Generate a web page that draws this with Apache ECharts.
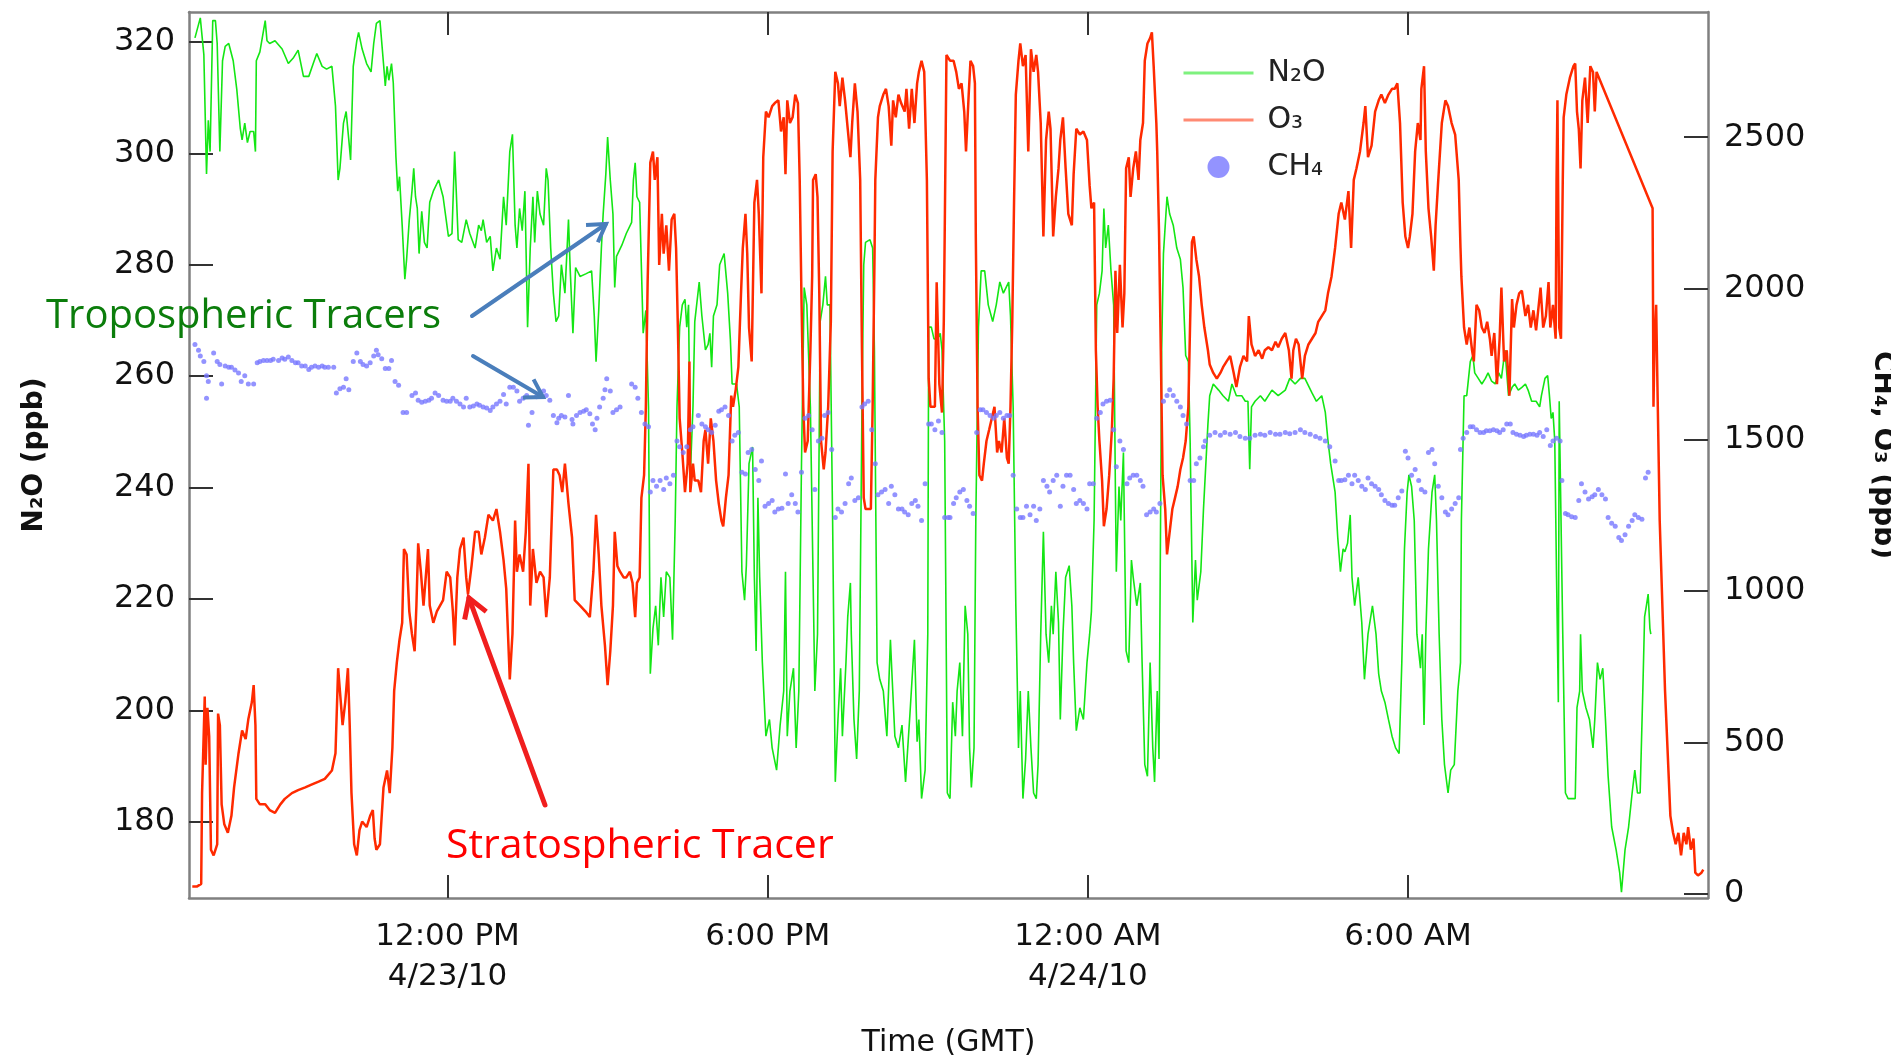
<!DOCTYPE html>
<html>
<head>
<meta charset="utf-8">
<title>N2O, O3, CH4</title>
<script src="https://cdn.jsdelivr.net/npm/echarts@6/dist/echarts.min.js"></script>
<style>
  html, body { margin: 0; padding: 0; background: #fff; overflow: hidden; }
  #main { width: 1891px; height: 1061px; }
</style>
</head>
<body>
<div id="main"></div>
<script>
// time = minutes since 00:00 GMT 4/23/10
var timeTicks = [720, 1080, 1440, 1800];
var timeTickLabels = ['12:00 PM\n4/23/10', '6:00 PM', '12:00 AM\n4/24/10', '6:00 AM'];
var n2oTicks = [180, 200, 220, 240, 260, 280, 300, 320];
var ppbTicks = [0, 500, 1000, 1500, 2000, 2500];

// N2O (ppb), left axis
var n2o = [
  [436,320.7],[442,324.3],[446,317.7],[449,296.3],[451,305.9],[453,300.3],[456,323.8],[459,323.8],[461,319.7],[464,300.3],
  [467,316.6],[470,319.2],[474,319.7],[479,316.6],[483,311.5],[487,304.4],[489,302.4],[492,305.4],[495,301.9],[498,303.9],
  [502,303.9],[504,300.3],[505,316.6],[509,318.2],[515,323.8],[517,320.2],[520,319.7],[526,320.2],[534,318.7],[541,316.1],
  [547,317.2],[552,318.5],[558,313.8],[564,313.8],[569,316.1],[573,317.9],[579,315.6],[584,315.1],[590,315.6],[594,308.5],
  [597,295.2],[599,297.3],[603,305.4],[606,307.5],[609,302.4],[611,298.8],[614,315.6],[618,320.2],[620,321.7],[624,318.7],
  [629,316.1],[634,314.6],[637,319.7],[640,323.3],[644,323.8],[648,316.1],[650,312.1],[652,315.6],[654,313.1],[657,316.1],
  [659,312.6],[662,299.3],[664,293.2],[666,295.8],[669,287.1],[672,277.4],[674,281.0],[677,288.1],[680,293.2],[682,297.3],
  [684,292.2],[686,290.1],[688,282.0],[691,289.6],[694,284.0],[697,283.0],[700,291.2],[704,293.2],[710,295.2],
  [715,292.2],[721,285.1],[725,285.6],[728,300.3],[732,284.5],[736,284.0],[741,288.1],[745,285.6],[751,283.0],[755,287.1],
  [758,286.1],[760,288.1],[764,284.0],[768,285.1],[771,278.9],[775,283.0],[779,281.0],[783,292.2],[786,287.1],[790,300.3],
  [793,303.4],[796,287.1],[798,283.0],[801,290.1],[804,286.1],[807,293.2],[810,268.8],[813,283.0],[816,292.2],[818,284.0],
  [821,293.2],[824,289.1],[828,287.1],[831,297.3],[833,295.2],[836,283.0],[839,274.9],[842,269.8],[845,270.8],[848,280.0],
  [852,274.9],[856,288.1],[858,278.9],[861,267.7],[864,279.5],[869,277.9],[876,278.4],[882,278.9],[885,270.8],[887,262.6],
  [890,271.8],[893,283.0],[895,289.1],[898,296.3],[900,302.9],[903,295.2],[906,289.1],[908,275.9],[910,281.5],[916,283.5],
  [921,285.6],[927,287.6],[929,295.2],[931,298.3],[933,292.2],[936,291.2],[940,267.7],[943,271.8],[946,254.5],[948,206.6],
  [951,214.7],[954,218.8],[957,211.7],[960,223.9],[963,216.8],[966,224.9],[970,223.9],[973,212.7],[976,234.1],[978,254.5],
  [981,268.8],[984,272.8],[987,273.8],[989,268.8],[991,272.8],[993,242.3],[996,254.5],[998,269.8],
  [1003,276.9],[1006,270.8],[1010,264.7],[1013,265.7],[1015,267.7],[1017,261.6],[1019,270.8],[1023,272.8],[1026,280.0],[1031,282.0],
  [1035,274.9],[1038,266.7],[1040,258.6],[1045,258.6],[1048,254.5],[1051,224.9],[1054,219.8],[1056,226.0],[1059,244.3],[1063,247.3],
  [1065,223.9],[1067,210.7],[1069,238.2],[1071,223.9],[1074,208.6],[1078,195.4],[1082,198.4],[1085,193.3],[1090,189.3],[1094,197.4],
  [1098,203.5],[1100,224.9],[1102,195.4],[1105,203.5],[1109,207.6],[1112,193.3],[1115,203.5],[1118,244.3],[1121,275.9],[1124,272.8],
  [1128,254.5],[1131,223.9],[1133,203.5],[1136,213.7],[1139,269.8],[1142,272.8],[1145,277.9],[1147,272.8],[1150,272.8],[1153,234.1],
  [1156,187.2],[1159,198.4],[1162,207.6],[1164,195.4],[1168,208.6],[1170,216.8],[1173,222.9],[1174,213.7],[1177,198.4],[1180,191.3],
  [1183,203.5],[1186,254.5],[1188,280.0],[1190,284.0],[1195,284.5],[1198,283.0],[1200,264.7],[1203,208.6],[1206,205.6],[1210,203.5],
  [1214,195.4],[1218,212.7],[1220,205.6],[1223,195.4],[1227,193.3],[1231,197.4],[1235,187.2],[1240,199.5],[1245,212.7],[1248,194.4],
  [1250,198.4],[1253,184.2],[1257,189.3],[1260,213.7],[1261,268.8],[1264,268.8],[1267,266.7],[1271,266.7],[1274,267.7],[1276,264.7],
  [1279,248.4],[1282,185.2],[1285,184.2],
  [1288,201.5],[1291,195.4],[1293,203.5],[1296,208.6],[1299,195.4],[1302,218.8],[1305,213.7],[1307,193.3],[1309,186.2],[1312,193.3],
  [1314,234.1],[1317,268.8],[1320,278.9],[1324,278.9],[1328,272.8],[1333,269.8],[1337,272.8],[1341,276.9],[1345,274.9],[1348,275.9],
  [1351,276.9],[1353,270.8],[1356,254.5],[1359,218.8],[1362,193.3],[1364,203.5],[1367,184.2],[1370,191.3],[1373,203.5],[1376,193.3],
  [1379,185.2],[1382,184.2],[1384,190.3],[1387,213.7],[1390,232.1],[1393,213.7],[1396,208.6],[1399,218.8],[1401,213.7],[1404,224.9],
  [1407,215.8],[1409,198.4],[1412,213.7],[1415,223.9],[1419,226.0],[1422,218.8],[1424,208.6],[1427,196.4],[1431,200.5],[1435,198.4],
  [1439,208.6],[1442,213.7],[1444,217.8],[1447,234.1],[1450,272.8],[1453,274.9],[1456,278.9],[1458,290.1],[1460,283.0],[1463,287.1],
  [1466,278.9],[1469,272.8],[1471,239.2],[1472,224.9],[1475,240.2],[1477,234.1],[1480,246.3],[1483,210.7],[1486,208.6],[1489,227.0],
  [1491,223.9],[1495,218.8],[1499,222.9],[1501,208.6],[1504,190.3],[1507,188.2],[1510,208.6],[1513,193.3],[1515,187.2],[1518,203.5],
  [1520,191.3],[1523,264.7],[1525,282.0],[1529,292.2],[1532,289.1],[1536,287.1],[1540,283.0],[1544,281.0],[1547,275.9],[1550,263.7],
  [1553,262.6],[1555,248.4],[1558,215.8],[1561,227.0],[1563,219.8],[1567,224.9],[1570,236.1],
  [1575,251.4],[1577,256.5],[1581,258.6],[1587,257.5],[1592,256.5],[1598,255.5],[1602,258.6],[1607,256.5],[1613,256.5],[1617,255.5],
  [1620,255.5],[1622,243.3],[1624,254.5],[1628,255.5],[1634,256.5],[1639,255.5],[1647,257.5],[1654,256.5],[1662,257.5],[1667,259.6],
  [1673,258.6],[1679,259.6],[1684,259.6],[1692,257.0],[1697,255.5],[1703,256.5],[1707,253.5],[1710,248.4],[1713,244.3],[1718,239.2],
  [1721,231.0],[1724,224.9],[1727,229.0],[1729,228.5],[1732,230.0],[1735,235.1],[1737,223.9],[1740,218.8],[1744,223.9],[1748,215.8],
  [1751,205.6],[1755,213.7],[1760,218.8],[1764,213.7],[1767,206.6],[1770,203.5],[1774,201.5],[1778,198.4],[1782,195.4],[1786,193.3],
  [1790,192.3],[1793,208.6],[1796,229.0],[1799,239.2],[1801,242.3],[1804,240.2],[1807,234.1],[1810,213.7],[1814,207.6],[1816,213.7],
  [1818,197.4],[1820,213.7],[1823,229.0],[1827,239.2],[1830,242.3],[1832,234.1],[1835,213.7],[1838,198.4],[1841,190.3],[1845,185.2],
  [1848,189.3],[1852,190.3],[1856,203.5],
  [1859,208.6],[1860,234.1],[1863,256.5],[1866,256.5],[1870,262.6],[1873,263.7],[1875,260.6],[1879,259.6],[1883,258.6],[1887,259.6],
  [1890,260.6],[1894,259.1],[1898,258.6],[1902,260.6],[1905,259.6],[1909,264.7],[1913,256.5],[1917,258.0],[1920,258.6],[1924,257.5],
  [1928,258.0],[1932,258.6],[1935,257.5],[1939,255.5],[1944,255.5],[1948,254.5],[1950,256.5],[1954,259.6],[1957,260.1],[1959,256.5],
  [1961,252.4],[1963,253.5],[1965,248.4],[1967,223.9],[1969,201.5],[1970,255.5],[1972,255.5],[1974,213.7],[1977,185.2],[1980,184.2],
  [1984,184.2],[1988,184.2],[1990,200.5],[1993,203.5],[1994,213.7],[1996,203.5],[2000,200.5],[2004,198.4],[2008,193.3],[2010,198.4],
  [2013,208.6],[2016,205.6],[2019,207.6],[2022,198.4],[2025,188.2],[2029,179.1],[2034,175.0],[2038,170.9],[2040,167.4],[2044,175.0],
  [2048,179.1],[2052,185.2],[2055,189.3],[2058,185.2],[2061,185.2],[2064,203.5],[2066,216.8],[2068,218.8],[2070,220.9],[2072,214.7],
  [2073,213.7]
];

// O3 (ppb), right axis
var o3 = [
  [433,23],[438,23],[443,32],[444,332],[447,651],[448,426],[450,614],[452,520],[454,145],[457,126],
  [461,163],[462,595],[464,557],[466,295],[469,229],[473,201],[477,257],[480,351],[485,464],[489,539],
  [493,511],[496,576],[500,633],[502,689],[504,557],[505,313],[509,295],[515,295],[520,276],[526,267],
  [532,295],[537,313],[545,332],[552,342],[560,351],[567,360],[575,370],[582,379],[590,407],[594,464],
  [597,745],[599,670],[602,557],[605,633],[608,745],[610,557],[612,332],[615,163],[618,126],[621,210],
  [624,238],[629,220],[633,257],[636,276],[638,182],[640,145],[644,163],[648,351],[652,407],[655,332],
  [658,482],[660,670],[663,764],[666,839],[669,895],[671,1139],[674,1121],[677,933],[680,858],[683,801],
  [685,952],[687,1158],[690,1064],[693,952],[696,1064],[698,1139],[700,952],[704,895],[708,933],
  [715,970],[719,1064],[723,1045],[726,933],[728,820],[731,1045],[734,1139],[738,1177],[741,1045],[743,989],
  [747,1083],[751,1196],[755,1196],[758,1121],[762,1177],[766,1252],[771,1233],[775,1271],[779,1196],[783,1102],
  [786,1008],[790,708],[793,858],[796,1233],[798,1064],[801,1121],[805,1064],[808,1196],[811,1421],[813,952],
  [816,1139],[820,1027],[824,1064],[828,1045],[831,914],[835,1045],[839,1402],[843,1402],[846,1383],[849,1327],
  [852,1421],[856,1289],[860,1177],[863,970],[869,952],[875,933],[880,914],[884,1064],[887,1252],[890,1121],
  [893,952],[897,820],[900,689],[903,801],[906,952],[908,1196],[911,1083],[914,1064],[918,1045],[921,1045],
  [925,1064],[928,1027],[931,914],[933,1027],[936,1045],[938,1308],[941,1383],[943,1609],[945,2021],[948,2416],
  [951,2453],[953,2359],[956,2434],[958,2078],[961,2247],[963,2115],[966,2209],[969,2059],[972,2228],[975,2247],
  [977,2134],[979,1871],[981,1571],[984,1458],[987,1327],[990,1421],[992,1759],[993,1327],[996,1421],[998,1365],
  [1002,1365],[1005,1327],[1008,1496],[1010,1533],[1013,1421],[1016,1571],[1019,1496],[1022,1365],[1025,1289],[1028,1233],
  [1030,1214],[1033,1308],[1036,1383],[1039,1646],[1041,1609],[1044,1665],[1047,1740],[1050,1984],[1052,2134],[1055,2247],
  [1057,2115],[1059,1871],[1062,1759],[1065,2284],[1068,2359],[1070,2247],[1073,1984],[1075,2434],[1078,2585],[1081,2566],
  [1085,2603],[1088,2613],[1092,2622],[1095,2519],[1098,2566],[1100,2378],[1102,2622],[1105,2547],[1108,2566],[1111,2641],
  [1114,2613],[1116,2359],[1118,1965],[1120,1609],[1122,1458],[1125,1496],[1128,1796],[1130,2040],[1131,2359],[1134,2378],
  [1136,2303],[1138,1984],[1140,1496],[1143,1402],[1145,1458],[1148,1609],[1151,1890],[1153,2453],[1156,2716],[1159,2678],
  [1161,2603],[1164,2697],[1167,2622],[1170,2528],[1173,2434],[1175,2547],[1178,2678],[1181,2585],[1184,2359],[1186,1796],
  [1188,1308],[1190,1271],[1193,1271],[1196,1271],[1198,1609],[1200,2078],[1201,2359],[1204,2566],[1206,2603],[1210,2641],
  [1213,2660],[1216,2603],[1219,2472],[1221,2622],[1224,2566],[1227,2641],[1230,2613],[1234,2585],[1236,2660],[1239,2528],
  [1242,2660],[1245,2547],[1248,2678],[1250,2716],[1253,2753],[1256,2716],[1259,2359],[1261,1702],[1263,1609],[1265,1609],
  [1268,1609],[1270,2021],[1273,1684],[1276,1590],[1278,1890],[1279,2172],[1281,2772],[1285,2753],
  [1289,2753],[1292,2716],[1295,2660],[1298,2678],[1301,2585],[1303,2453],[1306,2641],[1308,2753],[1311,2735],[1313,2678],
  [1314,2172],[1316,1609],[1318,1383],[1321,1365],[1323,1421],[1326,1496],[1329,1533],[1332,1571],[1335,1609],[1338,1458],
  [1340,1496],[1343,1458],[1346,1571],[1349,1440],[1351,1421],[1353,1609],[1355,1890],[1357,2284],[1359,2641],[1362,2753],
  [1364,2810],[1367,2735],[1370,2772],[1373,2453],[1376,2791],[1379,2716],[1382,2772],[1384,2716],[1387,2547],[1390,2172],
  [1393,2491],[1396,2585],[1398,2528],[1401,2172],[1404,2303],[1407,2397],[1409,2491],[1412,2566],[1415,2397],[1418,2247],
  [1422,2209],[1424,2378],[1427,2528],[1431,2509],[1435,2519],[1439,2491],[1442,2340],[1444,2265],[1447,2284],[1449,1796],
  [1451,1609],[1453,1496],[1456,1365],[1458,1214],[1461,1271],[1464,1383],[1467,1533],[1469,1702],[1471,2059],[1473,1853],
  [1476,2078],[1479,1871],[1481,1984],[1483,2397],[1486,2434],[1488,2303],[1491,2397],[1494,2453],[1497,2359],[1499,2491],
  [1502,2547],[1504,2753],[1507,2810],[1510,2828],[1512,2847],[1514,2735],[1517,2547],[1518,2453],[1520,2190],[1522,1796],
  [1524,1383],[1527,1271],[1529,1121],[1532,1196],[1535,1271],[1538,1308],[1541,1346],[1544,1402],[1547,1440],[1550,1496],
  [1553,1609],[1555,1890],[1557,2153],[1559,2172],[1562,2096],[1565,2040],[1568,1946],[1571,1871],
  [1575,1796],[1577,1749],[1581,1721],[1585,1702],[1589,1721],[1592,1740],[1596,1759],[1600,1777],[1604,1721],[1607,1674],
  [1611,1740],[1615,1777],[1619,1759],[1621,1909],[1624,1815],[1628,1777],[1632,1796],[1636,1768],[1639,1796],[1643,1806],
  [1647,1796],[1651,1824],[1654,1806],[1658,1834],[1662,1853],[1666,1796],[1669,1702],[1671,1796],[1674,1834],[1677,1815],
  [1681,1702],[1684,1777],[1688,1815],[1692,1834],[1696,1853],[1699,1890],[1703,1909],[1707,1928],[1710,1984],[1714,2040],
  [1718,2134],[1722,2247],[1725,2284],[1729,2228],[1733,2322],[1736,2134],[1739,2359],[1742,2397],[1746,2453],[1750,2547],
  [1752,2603],[1755,2434],[1759,2472],[1763,2585],[1767,2622],[1770,2641],[1774,2613],[1778,2641],[1782,2660],[1785,2660],
  [1788,2678],[1791,2547],[1794,2284],[1797,2172],[1800,2134],[1802,2172],[1805,2247],[1808,2453],[1811,2547],[1814,2491],
  [1815,2660],[1818,2735],[1820,2453],[1823,2265],[1826,2172],[1829,2059],[1831,2209],[1834,2359],[1838,2547],[1842,2622],
  [1845,2603],[1849,2547],[1853,2509],[1857,2359],
  [1859,2134],[1860,2040],[1863,1871],[1866,1815],[1869,1871],[1872,1796],[1874,1759],[1877,1946],[1880,1928],[1883,1871],
  [1886,1853],[1889,1890],[1892,1834],[1894,1777],[1897,1853],[1900,1684],[1903,1834],[1905,2003],[1908,1759],[1911,1796],
  [1914,1646],[1917,1965],[1919,1871],[1922,1946],[1925,1984],[1928,1993],[1932,1909],[1935,1946],[1938,1871],[1941,1928],
  [1944,1862],[1947,1946],[1949,2003],[1952,1871],[1955,1909],[1958,2021],[1960,1871],[1963,1946],[1966,1834],[1967,2359],
  [1968,2622],[1970,1871],[1972,1834],[1974,2359],[1975,2566],[1978,2641],[1982,2697],[1986,2735],[1988,2744],[1990,2585],
  [1992,2528],[1994,2397],[1996,2622],[1999,2697],[2002,2547],[2005,2735],[2008,2716],[2010,2585],[2012,2716],[2075,2265],
  [2076,1609],[2077,1796],[2079,1946],[2080,1759],[2083,1233],[2089,670],[2095,257],[2098,201],[2101,163],[2104,201],
  [2107,126],[2110,201],[2113,163],[2115,220],[2118,145],[2121,182],[2123,69],[2126,60],[2130,69],[2132,79]
];

// CH4 (ppb), right axis
var ch4 = [
  [436,1815],[440,1796],[442,1777],[446,1759],[449,1712],[451,1693],[449,1637],[457,1787],[461,1759],[464,1749],
  [466,1684],[470,1744],[474,1740],[477,1740],[481,1731],[485,1721],[488,1693],[492,1712],[496,1684],[502,1684],
  [506,1755],[509,1759],[513,1762],[517,1762],[521,1762],[524,1766],[530,1762],[534,1770],[537,1766],[541,1774],
  [545,1762],[549,1755],[552,1755],[556,1744],[560,1744],[564,1732],[567,1740],[571,1744],[575,1740],[579,1744],
  [582,1740],[586,1740],[592,1740],[595,1655],[599,1669],[603,1674],[606,1702],[609,1665],[614,1759],[618,1787],
  [622,1759],[625,1749],[629,1744],[633,1755],[637,1777],[640,1796],[642,1781],[646,1768],[650,1736],[654,1736],
  [657,1762],[661,1693],[665,1680],[670,1590],[674,1590],[680,1646],[684,1655],[687,1631],[691,1624],[695,1627],
  [699,1631],[702,1637],[706,1655],[710,1646],
  [715,1631],[719,1627],[723,1627],[726,1637],[730,1627],[734,1618],[738,1608],[741,1637],[745,1608],[749,1612],
  [753,1618],[756,1614],[760,1608],[764,1605],[768,1597],[771,1608],[775,1618],[779,1627],[783,1650],[786,1618],
  [790,1674],[794,1674],[798,1661],[801,1627],[805,1637],[809,1646],[811,1548],[815,1590],[820,1642],[824,1646],
  [828,1661],[831,1646],[835,1631],[839,1580],[843,1556],[845,1571],[848,1580],[852,1575],[856,1646],[860,1567],
  [861,1552],[865,1580],[869,1590],[873,1594],[876,1599],[880,1586],[883,1552],[886,1533],[888,1571],[891,1608],
  [895,1637],[897,1665],[899,1702],[903,1661],[906,1590],[910,1599],[914,1608],[927,1684],[931,1674],[934,1637],
  [938,1590],[942,1552],[946,1543],[948,1327],[951,1365],[955,1346],[959,1365],[963,1336],[966,1374],[970,1355],
  [974,1383],[978,1496],[981,1477],[985,1458],[989,1477],[993,1533],[996,1543],
  [1002,1580],[1006,1552],[1010,1543],[1013,1533],[1017,1524],[1021,1548],[1025,1594],[1028,1599],[1032,1608],[1036,1580],
  [1040,1496],[1043,1515],[1047,1524],[1051,1393],[1055,1387],[1058,1458],[1062,1468],[1066,1402],[1070,1365],[1073,1430],
  [1077,1280],[1081,1289],[1085,1299],[1088,1261],[1092,1271],[1096,1274],[1100,1387],[1103,1289],[1107,1318],[1111,1289],
  [1114,1261],[1118,1393],[1122,1571],[1126,1580],[1130,1533],[1133,1336],[1137,1496],[1141,1505],[1144,1580],[1148,1590],
  [1152,1468],[1156,1243],[1159,1271],[1163,1261],[1167,1289],[1171,1355],[1174,1374],[1178,1299],[1182,1308],[1186,1608],
  [1189,1618],[1193,1627],[1197,1533],[1201,1421],[1204,1318],[1208,1327],[1212,1336],[1216,1289],[1219,1346],[1223,1318],
  [1227,1271],[1231,1271],[1234,1261],[1238,1252],[1242,1289],[1246,1299],[1249,1280],[1253,1233],[1257,1355],[1261,1552],
  [1264,1552],[1268,1533],[1272,1562],[1276,1524],[1279,1243],[1283,1243],
  [1285,1243],[1289,1289],[1292,1308],[1296,1327],[1300,1336],[1304,1299],[1307,1280],[1311,1256],[1315,1524],[1319,1599],
  [1322,1599],[1326,1590],[1330,1580],[1334,1571],[1337,1580],[1341,1590],[1345,1571],[1349,1580],[1352,1580],[1356,1383],
  [1360,1271],[1364,1243],[1367,1243],[1371,1280],[1375,1252],[1379,1280],[1382,1233],[1386,1271],[1390,1365],[1394,1346],
  [1397,1327],[1401,1365],[1405,1383],[1409,1280],[1412,1346],[1416,1383],[1420,1383],[1424,1336],[1427,1289],[1431,1299],
  [1435,1289],[1439,1271],[1442,1355],[1446,1355],[1450,1571],[1454,1590],[1457,1618],[1461,1627],[1465,1631],[1469,1533],
  [1472,1411],[1476,1496],[1480,1468],[1484,1355],[1487,1374],[1491,1383],[1495,1383],[1499,1365],[1502,1346],[1506,1252],
  [1510,1261],[1514,1271],[1517,1261],[1521,1289],[1525,1627],[1529,1646],[1532,1665],[1536,1646],[1540,1627],[1544,1608],
  [1547,1580],[1551,1552],[1555,1365],[1559,1365],[1562,1421],[1566,1440],[1570,1477],
  [1572,1496],[1577,1515],[1583,1524],[1589,1515],[1594,1524],[1600,1518],[1606,1524],[1611,1511],[1617,1505],[1622,1505],
  [1628,1515],[1634,1518],[1639,1515],[1645,1524],[1651,1518],[1656,1518],[1662,1524],[1667,1520],[1673,1524],[1679,1533],
  [1684,1524],[1690,1518],[1696,1511],[1701,1505],[1707,1496],[1712,1477],[1718,1430],[1722,1365],[1725,1365],[1729,1368],
  [1733,1383],[1737,1355],[1740,1383],[1744,1365],[1748,1346],[1752,1336],[1755,1374],[1759,1355],[1763,1346],[1767,1336],
  [1770,1318],[1774,1299],[1778,1289],[1782,1284],[1785,1284],[1789,1308],[1793,1331],[1797,1462],[1800,1440],[1804,1383],
  [1808,1402],[1812,1365],[1815,1336],[1819,1327],[1823,1458],[1827,1468],[1830,1421],[1834,1346],[1838,1308],[1842,1261],
  [1845,1252],[1849,1271],[1853,1289],[1857,1308],
  [1859,1468],[1862,1505],[1866,1524],[1870,1543],[1873,1543],[1877,1533],[1881,1524],[1885,1524],[1888,1530],[1892,1530],
  [1896,1533],[1900,1530],[1903,1524],[1907,1533],[1911,1552],[1915,1552],[1918,1524],[1922,1518],[1926,1515],[1930,1511],
  [1933,1515],[1937,1518],[1941,1518],[1945,1515],[1948,1524],[1952,1511],[1956,1533],[1960,1481],[1963,1496],[1967,1505],
  [1971,1496],[1973,1365],[1977,1256],[1980,1252],[1984,1246],[1988,1243],[1992,1299],[1995,1355],[1999,1327],[2003,1304],
  [2007,1312],[2010,1318],[2014,1336],[2018,1318],[2022,1304],[2025,1243],[2029,1224],[2033,1214],[2037,1177],[2040,1167],
  [2044,1186],[2048,1214],[2052,1233],[2055,1252],[2059,1243],[2063,1237],[2067,1374],[2070,1393]
];

var chart = echarts.init(document.getElementById('main'));

var frameLine = { show: true, onZero: false, lineStyle: { color: '#808080', width: 2.5 } };
var tickStyle = { color: '#333', width: 2 };
var labelFont = 'DejaVu Sans';

// open "V" arrow, drawn as plain lines
function arrow(x1, y1, x2, y2, color, w, len) {
  var a = Math.atan2(y2 - y1, x2 - x1), s = 0.55;
  var p1 = [x2 - len * Math.cos(a - s), y2 - len * Math.sin(a - s)];
  var p3 = [x2 - len * Math.cos(a + s), y2 - len * Math.sin(a + s)];
  return [
    { type: 'line', z: 100, shape: { x1: x1, y1: y1, x2: x2, y2: y2 }, style: { stroke: color, lineWidth: w, lineCap: 'round' } },
    { type: 'polyline', z: 100, shape: { points: [p1, [x2, y2], p3] }, style: { stroke: color, lineWidth: w, fill: null, lineJoin: 'miter' } }
  ];
}

var annotations = [
  { type: 'text', z: 100, x: 46, y: 317, style: { text: 'Tropospheric Tracers', fill: '#0b7d0b', font: '40px "Open Sans"', verticalAlign: 'middle' } },
  { type: 'text', z: 100, x: 446, y: 846, style: { text: 'Stratospheric Tracer', fill: '#ff0000', font: '41px "Open Sans"', verticalAlign: 'middle' } }
].concat(
  arrow(472, 316, 606, 224, '#4a7ebb', 4, 20),
  arrow(473, 356, 543, 397, '#4a7ebb', 4, 20),
  arrow(545, 805, 469, 598, '#f01e1e', 5, 22)
);

var option = {
  animation: false,
  backgroundColor: '#fff',
  grid: { left: 189, right: 183, top: 12, bottom: 163, outerBoundsMode: 'none', containLabel: false },
  legend: {
    orient: 'vertical',
    left: 1177,
    top: 53,
    itemWidth: 70,
    itemHeight: 22,
    itemGap: 17,
    textStyle: { fontSize: 30, lineHeight: 30, fontFamily: labelFont, color: '#222', padding: [0, 0, 0, 9] },
    data: [
      { name: 'N₂O', itemStyle: { opacity: 0 }, lineStyle: { width: 3, opacity: 0.55 } },
      { name: 'O₃', itemStyle: { opacity: 0 }, lineStyle: { width: 3, opacity: 0.55 } },
      { name: 'CH₄', icon: 'circle' }
    ]
  },
  xAxis: [
    {
      type: 'value', position: 'bottom', min: 429.3, max: 2137.3,
      axisLine: frameLine,
      axisTick: { inside: true, length: 23, customValues: timeTicks, lineStyle: tickStyle },
      axisLabel: {
        customValues: timeTicks,
        formatter: function (v) { return timeTickLabels[timeTicks.indexOf(v)]; },
        fontSize: 31, lineHeight: 40, fontFamily: labelFont, color: '#111', margin: 19
      },
      splitLine: { show: false },
      name: 'Time (GMT)', nameLocation: 'middle', nameGap: 130,
      nameTextStyle: { fontSize: 30, fontFamily: labelFont, color: '#111' }
    },
    {
      type: 'value', position: 'top', min: 429.3, max: 2137.3,
      axisLine: frameLine,
      axisTick: { inside: true, length: 23, customValues: timeTicks, lineStyle: tickStyle },
      axisLabel: { show: false },
      splitLine: { show: false }
    }
  ],
  yAxis: [
    {
      type: 'value', position: 'left', min: 166.36, max: 325.35,
      axisLine: frameLine,
      axisTick: { inside: true, length: 24, customValues: n2oTicks, lineStyle: tickStyle },
      axisLabel: { customValues: n2oTicks, fontSize: 32, fontFamily: labelFont, color: '#111', margin: 14 },
      splitLine: { show: false },
      name: 'N₂O (ppb)', nameLocation: 'middle', nameGap: 140,
      nameTextStyle: { fontSize: 28, fontWeight: 'bold', fontFamily: labelFont, color: '#111' }
    },
    {
      type: 'value', position: 'right', min: -14.6, max: 2914,
      axisLine: frameLine,
      axisTick: { inside: true, length: 24, customValues: ppbTicks, lineStyle: tickStyle },
      axisLabel: {
        customValues: ppbTicks,
        formatter: function (v) { return String(v); },
        fontSize: 32, fontFamily: labelFont, color: '#111', margin: 16
      },
      splitLine: { show: false },
      name: 'CH₄, O₃ (ppb)', nameLocation: 'middle', nameRotate: -90, nameGap: 160,
      nameTextStyle: { fontSize: 28, fontWeight: 'bold', fontFamily: labelFont, color: '#111' }
    }
  ],
  series: [
    {
      name: 'N₂O', type: 'line', xAxisIndex: 0, yAxisIndex: 0, data: n2o,
      symbol: 'none', z: 2,
      lineStyle: { color: '#14e614', width: 1.6 }, itemStyle: { color: '#14e614' }
    },
    {
      name: 'O₃', type: 'line', xAxisIndex: 0, yAxisIndex: 1, data: o3,
      symbol: 'none', z: 3,
      lineStyle: { color: '#ff2a00', width: 2.5 }, itemStyle: { color: '#ff2a00' }
    },
    {
      name: 'CH₄', type: 'scatter', xAxisIndex: 0, yAxisIndex: 1, data: ch4,
      symbol: 'circle', symbolSize: 5, z: 4,
      itemStyle: { color: '#7878ff' }
    }
  ],
  graphic: annotations
};

chart.setOption(option);
</script>
</body>
</html>
